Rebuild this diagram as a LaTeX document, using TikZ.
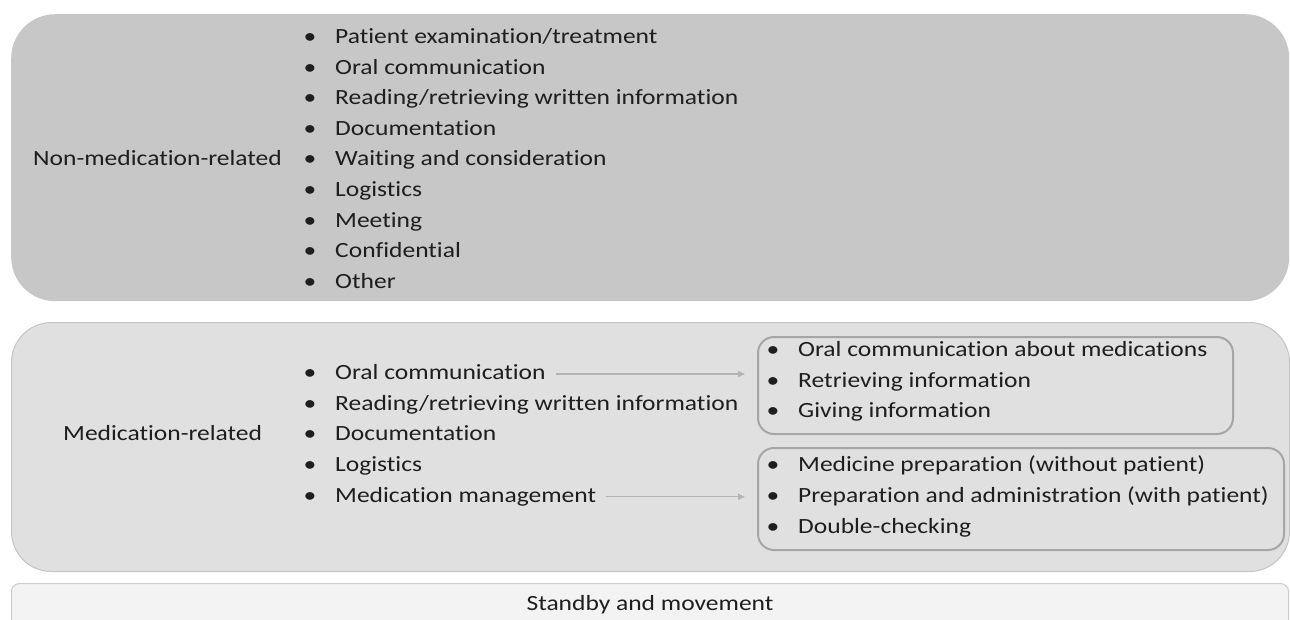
\documentclass[tikz,border=0pt]{standalone}
\usepackage{fontspec}
\setmainfont{Carlito}
\newfontfamily\boxfont[FakeStretch=1.176, Ligatures={NoCommon}]{Carlito}
\usetikzlibrary{arrows.meta}
\definecolor{txt}{HTML}{1E1E1E}
\definecolor{topfill}{HTML}{C7C7C7}
\definecolor{midfill}{HTML}{E0E0E0}
\definecolor{midline}{HTML}{C4C4C4}
\definecolor{lowfill}{HTML}{F3F3F3}
\definecolor{lowline}{HTML}{CCCCCC}
\definecolor{subline}{HTML}{A6A6A6}
\definecolor{arrowc}{HTML}{B4B4B4}
\begin{document}
\begin{tikzpicture}[x=1pt,y=-1pt,
  band/.style={rectangle, anchor=north west, inner sep=0pt},
  subbox/.style={rectangle, anchor=north west, inner sep=0pt, draw=subline,
    line width=2pt, rounded corners=16pt, fill=midfill},
  lbl/.style={anchor=west, inner sep=0pt, text=txt,
    font=\boxfont\fontsize{21.7}{26}\selectfont, text height=15pt, text depth=4pt},
  bul/.style={anchor=center, inner sep=0pt, text=txt,
    font=\boxfont\fontsize{21.7}{26}\selectfont, text height=15pt, text depth=4pt},
  conn/.style={draw=arrowc, line width=1.3pt,
    -{Triangle[length=7pt,width=6pt]}, shorten <=10pt, shorten >=12pt}]
\useasboundingbox (0,0) rectangle (1290,619);
\clip (0,0) rectangle (1290,619);
\fill[white] (0,0) rectangle (1290,619);

% three category bands
\node[band, fill=topfill, rounded corners=44pt,
  minimum width=1278pt, minimum height=287pt] (nonmed) at (11,14) {};
\node[band, fill=midfill, draw=midline, line width=1pt, rounded corners=40pt,
  minimum width=1278pt, minimum height=249pt] (med) at (11,322) {};
\node[band, fill=lowfill, draw=lowline, line width=1pt, rounded corners=8pt,
  minimum width=1277pt, minimum height=80pt] (standby) at (11,583) {};

% band titles
\node[lbl] (tnon) at (33,160) {Non-medication-related};
\node[lbl] (tmed) at (63,435) {Medication-related};
\node[bul] (tstand) at (650,605) {Standby and movement};

% non-medication activities
\foreach \t [count=\i from 0] in {Patient examination/treatment,
    Oral communication, Reading/retrieving written information,
    Documentation, Waiting and consideration, Logistics, Meeting,
    Confidential, Other}{
  \node[bul] (nb\i) at (310,38+30.6*\i) {•};
  \node[lbl] (n\i) at (335,38+30.6*\i) {\t};
}

% medication activities
\foreach \t [count=\i from 0] in {Oral communication,
    Reading/retrieving written information, Documentation, Logistics,
    Medication management}{
  \node[bul] (mb\i) at (310,374+30.7*\i) {•};
  \node[lbl] (m\i) at (335,374+30.7*\i) {\t};
}

% sub-activity boxes
\node[subbox, minimum width=475pt, minimum height=97pt] (subA) at (757,336) {};
\node[subbox, minimum width=526pt, minimum height=102pt] (subB) at (757,447) {};

\foreach \t [count=\i from 0] in {Oral communication about medications,
    Retrieving information, Giving information}{
  \node[bul] (ab\i) at (773,351+30.6*\i) {•};
  \node[lbl] (a\i) at (798,351+30.6*\i) {\t};
}
\foreach \t [count=\i from 0] in {Medicine preparation (without patient),
    Preparation and administration (with patient), Double-checking}{
  \node[bul] (bb\i) at (773,466+30.8*\i) {•};
  \node[lbl] (b\i) at (798,466+30.8*\i) {\t};
}

% refinement arrows
\draw[conn] (m0.east) -- (m0.east -| subA.west);
\draw[conn] (m4.east) -- (m4.east -| subB.west);
\end{tikzpicture}
\end{document}
